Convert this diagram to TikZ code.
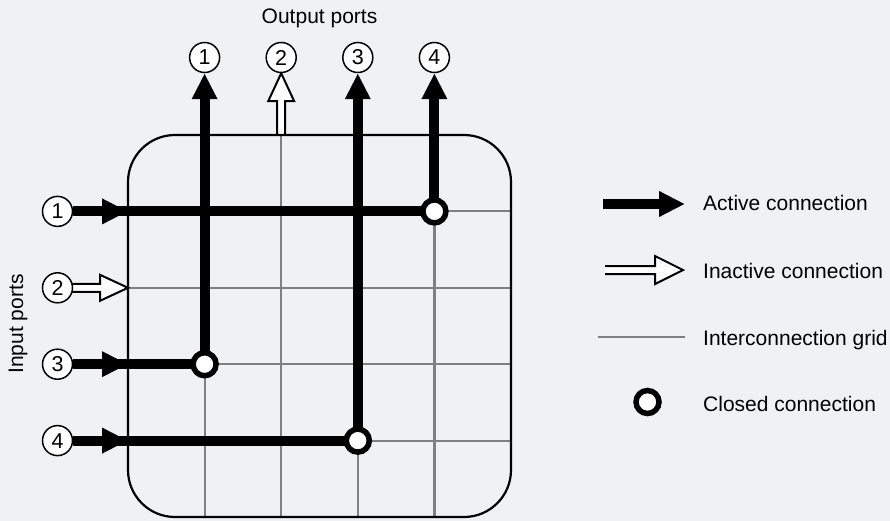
\documentclass[tikz,border=0pt]{standalone}
\usepackage{fontspec}
\setmainfont{Liberation Sans}
\usetikzlibrary{arrows.meta,calc,backgrounds}
\definecolor{bgc}{RGB}{240,241,243}
\definecolor{gridc}{RGB}{128,128,128}
\begin{document}
\begin{tikzpicture}[x=1pt,y=-1pt,
  lbl/.style={font=\fontsize{21pt}{25pt}\selectfont, inner sep=0pt},
  port/.style={circle, draw, fill=white, line width=1.5pt, minimum size=30pt, inner sep=0pt, font=\fontsize{21.5pt}{25pt}\selectfont},
  closedc/.style={circle, draw, fill=white, line width=5.5pt, minimum size=23pt, inner sep=0pt},
  act/.style={line width=10pt},
  acthead/.style={line width=10pt, -{Triangle[length=26pt,width=24pt]}},
  inact/.style={draw, fill=white, line width=2pt, line join=miter},
  gridline/.style={gridc, line width=2.2pt},
  boxline/.style={line width=2.2pt, rounded corners=47pt}]
\useasboundingbox (0,0) rectangle (890,521);
% ports
\node[port] (o1) at (204.6,57.5) {1};
\node[port] (o2) at (281.2,57.5) {2};
\node[port] (o3) at (357.8,57.5) {3};
\node[port] (o4) at (434.4,57.5) {4};
\node[port] (i1) at (57.5,211.4) {1};
\node[port] (i2) at (57.5,287.8) {2};
\node[port] (i3) at (57.5,364.2) {3};
\node[port] (i4) at (57.5,440.6) {4};
% closed connections
\node[closedc] (c1) at (434.4,211.4) {};
\node[closedc] (c3) at (204.6,364.2) {};
\node[closedc] (c4) at (357.8,440.6) {};
% edge points
\coordinate (e1) at (128,211.4);
\coordinate (e2) at (128,287.8);
\coordinate (e3) at (128,364.2);
\coordinate (e4) at (128,440.6);
\coordinate (t2) at (281.2,135);
% labels
\node[lbl, anchor=base] (outlbl) at (319.5,24) {Output ports};
\node[lbl, anchor=base, rotate=90] (inlbl) at (23,324) {Input ports};
% legend
\coordinate (la1) at (603,204);
\coordinate (la2) at (685,204);
\coordinate (li1) at (605,270);
\coordinate (li2) at (685,270);
\coordinate (lg1) at (598,337);
\coordinate (lg2) at (685,337);
\node[closedc] (lc) at (647.5,402) {};
\node[lbl, anchor=base west] (t1) at (703,211) {Active connection};
\node[lbl, anchor=base west] (t2l) at (703,278) {Inactive connection};
\node[lbl, anchor=base west] (t3) at (703,345) {Interconnection grid};
\node[lbl, anchor=base west] (t4) at (703,411) {Closed connection};
\begin{scope}[on background layer]
  \fill[bgc] (0,0) rectangle (890,521);
  \foreach \x in {204.6,281.2,357.8,434.4} \draw[gridline] (\x,135) -- (\x,517);
  \foreach \y in {211.4,287.8,364.2,440.6} \draw[gridline] (128,\y) -- (511,\y);
  \draw[boxline] (128,135) rectangle (511,517);
  % input 1 -> output 4
  \draw[act] (i1) -- (c1.center);
  \draw[acthead] (i1) -- (e1);
  \draw[acthead] (c1.center) -- (o4);
  % input 3 -> output 1
  \draw[act] (i3) -- (c3.center);
  \draw[acthead] (i3) -- (e3);
  \draw[acthead] (c3.center) -- (o1);
  % input 4 -> output 3
  \draw[act] (i4) -- (c4.center);
  \draw[acthead] (i4) -- (e4);
  \draw[acthead] (c4.center) -- (o3);
  % inactive input 2
  \draw[inact] ($(i2.center)+(10,-4)$) -- ($(e2)+(-28,-4)$) -- ($(e2)+(-28,-13)$) -- (e2)
     -- ($(e2)+(-28,13)$) -- ($(e2)+(-28,4)$) -- ($(i2.center)+(10,4)$) -- cycle;
  % inactive output 2
  \draw[inact] ($(t2)+(-4,0)$) -- ($(o2.south)+(-4,28)$) -- ($(o2.south)+(-13,28)$) -- (o2.south)
     -- ($(o2.south)+(13,28)$) -- ($(o2.south)+(4,28)$) -- ($(t2)+(4,0)$) -- cycle;
  % legend symbols
  \draw[acthead] (la1) -- (la2);
  \fill[white] ($(li1)+(0,-4)$) -- ($(li2)+(-30,-4)$) -- ($(li2)+(-30,-14)$) -- ($(li2)+(-2,0)$)
     -- ($(li2)+(-30,14)$) -- ($(li2)+(-30,4)$) -- ($(li1)+(0,4)$) -- cycle;
  \draw[line width=2pt, line join=miter] ($(li1)+(0,-4)$) -- ($(li2)+(-30,-4)$) -- ($(li2)+(-30,-14)$) -- ($(li2)+(-2,0)$)
     -- ($(li2)+(-30,14)$) -- ($(li2)+(-30,4)$) -- ($(li1)+(0,4)$);
  \draw[gridline] (lg1) -- (lg2);
\end{scope}
\end{tikzpicture}
\end{document}
